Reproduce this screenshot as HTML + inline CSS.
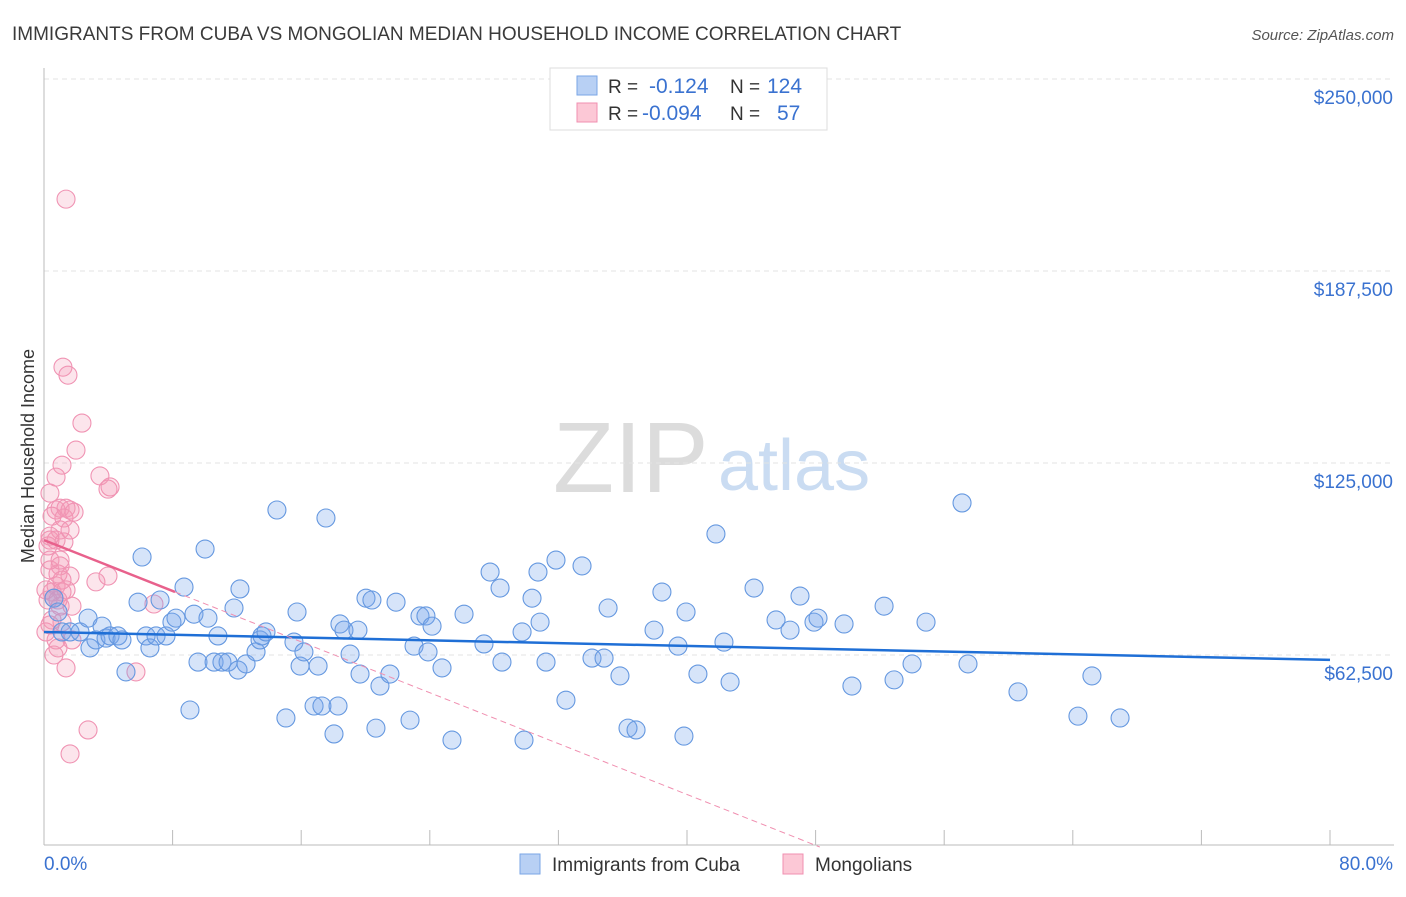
<!DOCTYPE html>
<html><head><meta charset="utf-8"><style>
body{margin:0;background:#fff;font-family:"Liberation Sans",sans-serif;}
svg text{font-family:"Liberation Sans",sans-serif;}
</style></head><body>
<svg id="chart" width="1406" height="892" xmlns="http://www.w3.org/2000/svg">
<text x="12" y="40" font-size="19" fill="#3a3a3a">IMMIGRANTS FROM CUBA VS MONGOLIAN MEDIAN HOUSEHOLD INCOME CORRELATION CHART</text>
<text x="1394" y="40" font-size="15" fill="#555" font-style="italic" text-anchor="end">Source: ZipAtlas.com</text>
<g>
<text x="553" y="492" font-size="100" font-family="Liberation Serif,serif" fill="#dcdcdc">ZIP</text>
<text x="718" y="490" font-size="72" fill="#cadcf2">atlas</text>
</g>
<g id="grid"></g>
<g id="axes"></g>
<g id="marks"></g>
<text transform="translate(34,456) rotate(-90)" font-size="18" fill="#333" text-anchor="middle">Median Household Income</text>
<g>
<rect x="550" y="68" width="277" height="62" fill="#fff" stroke="#ddd"/>
<rect x="577" y="76" width="20" height="19" fill="#b8d0f4" stroke="#7aa6e6"/>
<rect x="577" y="103" width="20" height="19" fill="#fcc8d6" stroke="#f08fb0"/>
<text x="608" y="93" font-size="19" fill="#333">R = </text><text x="649" y="93" font-size="21" fill="#3a72d0">-0.124</text>
<text x="730" y="93" font-size="19" fill="#333">N = </text><text x="767" y="93" font-size="21" fill="#3a72d0">124</text>
<text x="608" y="120" font-size="19" fill="#333">R = </text><text x="642" y="120" font-size="21" fill="#3a72d0">-0.094</text>
<text x="730" y="120" font-size="19" fill="#333">N = </text><text x="777" y="120" font-size="21" fill="#3a72d0">57</text>
</g>
<g>
<rect x="520" y="854" width="20" height="20" fill="#b8d0f4" stroke="#7aa6e6"/>
<text x="552" y="871" font-size="19" fill="#333">Immigrants from Cuba</text>
<rect x="783" y="854" width="20" height="20" fill="#fcc8d6" stroke="#f08fb0"/>
<text x="815" y="871" font-size="19" fill="#333">Mongolians</text>
</g>
</svg>
<script>
const yTicks=[62.5,125,187.5,250];
const yTickLabels=["$62,500","$125,000","$187,500","$250,000"];
const xTicks=[0,8,16,24,32,40,48,56,64,72,80];
const xTickLabels=["0.0%","80.0%"];
const cubaX=[0.62,0.87,1.12,1.62,2.24,2.74,2.86,3.23,3.61,3.86,4.11,4.60,4.85,5.10,5.85,6.10,6.35,6.59,6.97,7.22,7.59,7.96,8.21,8.71,9.08,9.33,9.58,10.02,10.20,10.58,10.82,11.07,11.45,11.82,12.07,12.19,12.57,13.19,13.44,13.56,13.81,14.49,15.05,15.55,15.74,15.93,16.17,16.80,17.05,17.29,17.54,18.04,18.29,18.41,18.66,19.04,19.53,19.66,20.03,20.40,20.65,20.90,21.52,21.90,22.77,23.02,23.39,23.76,23.89,24.14,24.76,25.38,26.13,27.37,27.75,28.37,28.49,29.74,29.86,30.36,30.73,30.86,31.23,31.85,32.47,33.47,34.09,34.84,35.09,35.83,36.33,36.83,37.95,38.44,39.44,39.81,39.94,40.68,41.80,42.30,42.68,44.17,45.54,46.41,47.03,47.90,48.15,49.77,50.26,52.26,52.88,54.00,54.87,57.11,57.48,60.59,64.32,65.19,66.94];
const cubaY=[81.0,76.5,70.0,70.0,70.0,74.5,64.8,67.4,71.9,68.0,68.7,68.7,67.4,57.0,79.7,94.4,68.7,64.8,68.7,80.4,68.7,73.2,74.5,84.6,44.6,75.8,60.2,97.0,74.5,60.2,68.7,60.2,60.2,77.8,57.6,84.0,59.6,63.5,67.4,68.7,70.0,109.7,42.0,66.7,76.5,58.9,63.5,45.9,58.9,45.9,107.1,36.8,45.9,72.6,70.6,62.8,70.6,56.3,81.0,80.4,38.7,52.4,56.3,79.7,41.3,65.4,75.2,75.2,63.5,71.9,58.3,34.8,75.8,66.1,89.5,84.3,60.2,70.0,34.8,81.0,89.5,73.2,60.2,93.4,47.8,91.5,61.5,61.5,77.8,55.7,38.7,38.1,70.6,83.0,65.4,36.1,76.5,56.3,101.9,66.7,53.7,84.3,73.9,70.6,81.7,73.2,74.5,72.6,52.4,78.4,54.4,59.6,73.2,112.0,59.6,50.5,42.6,55.7,42.0];
const mongX=[1.37,1.18,1.49,2.36,1.99,1.12,0.75,0.37,3.48,4.11,3.98,0.75,1.00,1.37,1.62,0.50,1.24,1.00,0.37,0.75,1.24,0.25,1.00,0.37,1.62,0.87,0.75,0.50,0.62,1.12,3.23,3.98,6.84,1.00,1.74,0.50,1.12,0.12,0.75,1.74,0.87,1.37,5.72,2.74,1.62,0.37,0.12,0.25,1.62,1.00,1.37,0.37,0.62,0.37,1.87,0.87,1.12];
const mongY=[210.9,156.2,153.6,138.0,129.2,124.3,120.4,115.2,120.8,117.2,116.5,109.7,110.3,110.3,109.7,107.7,107.1,103.2,99.9,99.9,99.3,98.0,91.5,90.2,88.2,88.9,85.0,83.0,81.0,83.0,86.3,88.2,79.1,78.4,78.4,73.9,73.2,70.0,67.4,67.4,64.8,58.3,57.0,38.1,30.3,93.4,83.7,80.4,103.2,93.4,83.7,72.3,62.5,101.2,109.0,80.4,86.9];
const cubaTrend=[70.0,60.9];      // value at 0% and 80%
const mongTrend=[99.9,-2.07];     // intercept, slope per %
const mongSolidEnd=8.15;

const NS="http://www.w3.org/2000/svg";
const X0=44,X1=1330,YB=847,PX_PER_K=192/62.5;
const xs=v=>X0+(X1-X0)*v/80;
const ys=v=>YB-v*PX_PER_K;
function mk(tag,attrs,parent){const e=document.createElementNS(NS,tag);for(const k in attrs)e.setAttribute(k,attrs[k]);parent.appendChild(e);return e;}
const grid=document.getElementById('grid'),axes=document.getElementById('axes'),marks=document.getElementById('marks');
yTicks.forEach((t,i)=>{
 const l=mk('line',{x1:44,x2:1394,y1:ys(t),y2:ys(t),stroke:'#e3e3e3','stroke-dasharray':'5,4'},grid);
 
 
 const tx=mk('text',{x:1393,y:ys(t)+25,'font-size':19,fill:'#3a72d0','text-anchor':'end'},axes);
 tx.textContent=yTickLabels[i];
 
 
});
const ya=mk('line',{x1:44,x2:44,y1:68,y2:845,stroke:'#bbb'},axes);


const xa=mk('line',{x1:44,x2:1394,y1:845,y2:845,stroke:'#bbb'},axes);


xTicks.forEach(t=>{
 const l=mk('line',{x1:xs(t),x2:xs(t),y1:830,y2:845,stroke:'#bbb'},axes);
 
 
});
const xl0=mk('text',{x:44,y:870,'font-size':19,fill:'#3a72d0'},axes);
xl0.textContent=xTickLabels[0];


const xl1=mk('text',{x:1393,y:870,'font-size':19,fill:'#3a72d0','text-anchor':'end'},axes);
xl1.textContent=xTickLabels[1];



mongX.forEach((x,i)=>{
 const c=mk('circle',{cx:xs(x),cy:ys(mongY[i]),r:9,fill:'rgba(245,150,180,0.25)',stroke:'#f093b3','stroke-width':1.1},marks);
 
 
});
cubaX.forEach((x,i)=>{
 const c=mk('circle',{cx:xs(x),cy:ys(cubaY[i]),r:9,fill:'rgba(120,165,235,0.3)',stroke:'#6598e0','stroke-width':1.1},marks);
 
 
});
const ct=mk('line',{x1:xs(0),y1:ys(cubaTrend[0]),x2:xs(80),y2:ys(cubaTrend[1]),stroke:'#1f6fd6','stroke-width':2.5},marks);


const mv=x=>mongTrend[0]+mongTrend[1]*x;
const mZero=-mongTrend[0]/mongTrend[1];
const md=mk('line',{x1:xs(mongSolidEnd),y1:ys(mv(mongSolidEnd)),x2:xs(mZero),y2:ys(0),stroke:'#f08fb0','stroke-width':1,'stroke-dasharray':'6,4'},marks);


const ms=mk('line',{x1:xs(0),y1:ys(mv(0)),x2:xs(mongSolidEnd),y2:ys(mv(mongSolidEnd)),stroke:'#e8618c','stroke-width':2.5},marks);


</script>
</body></html>
